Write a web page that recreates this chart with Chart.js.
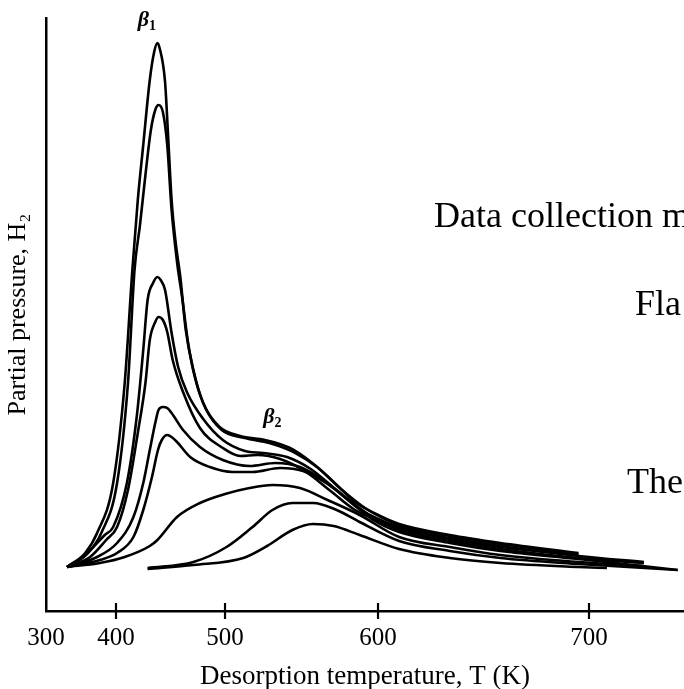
<!DOCTYPE html>
<html lang="en">
  <head>
    <script src="https://cdn.jsdelivr.net/npm/chart.js"></script>
    <meta charset="UTF-8" />
    <title>H2 desorption spectra</title>
    <style>
      html, body {
        margin: 0;
        padding: 0;
        background: #fff;
        overflow: hidden;
      }
      body {
        position: relative;
        width: 684px;
        height: 689px;
      }
      canvas {
        position: absolute;
        left: 0;
        top: 0;
      }
      .note {
        position: absolute;
        font-family: "Liberation Serif", serif;
        font-size: 36px;
        line-height: 36px;
        white-space: nowrap;
        color: #000;
      }
    </style>
  </head>
  <body>
    <canvas id="tds" width="684" height="689"></canvas>
    <div class="note" style="left: 434px; top: 197px">Data collection m</div>
    <div class="note" style="left: 635px; top: 285px">Fla</div>
    <div class="note" style="left: 627px; top: 463px">The</div>

    <script>
      // temperature axis: printed ticks and where they sit along the axis (0..1)
      const tempTicks = [300, 400, 500, 600, 700];
      const warpT = [300, 400, 500, 600, 700, 745];
      const warpF = [0, 0.1097, 0.2806, 0.5204, 0.8511, 1];

      // desorption curves, [T (K), partial pressure (arb.)]
      const curve1 = [[330,44],[356,58],[373,78],[396,128],[408,228],[415,341],[420,411],[425,466],[431,531],[435,559],[438,568],[440,563],[445,529],[448,471],[451,411],[455,366],[459,334],[464,281],[471,241],[480,208],[495,184],[510,175],[526,171],[542.5,163],[557,148],[571,129],[585,109],[601,95],[610,87],[634,76],[658,68],[695,58]];
      const curve2 = [[330,44],[360,58],[379,78],[401,128],[411,228],[417,341],[422,386],[427,436],[432,481],[436,501],[439,506],[443,499],[447,466],[451,401],[456,349],[461,311],[466,269],[472.5,233],[482,203],[497,181],[513,173],[529,168],[546,158],[561,143],[575,123],[591.5,103],[610,86],[634,75],[658,67],[695,57]];
      const curve3 = [[330,44],[353,54],[384,76],[396,84],[410,128],[419,194],[425,261],[429,311],[434,328],[438,334],[441,331],[445,321],[451,278],[457,244],[465,219],[480,192],[498,171],[513,160],[525,158],[540.5,154],[556,142],[572,122],[588,102],[610,84],[634,73],[658,65],[695,55],[726,49]];
      const curve4 = [[330,44],[363,54],[386,71],[401,84],[411,121],[420,178],[427,228],[431,271],[436,289],[439,294],[443,291],[447,279],[452,251],[461.5,219],[477,183],[498,163],[510,155],[521,156],[536,152],[552,140],[569,120],[585,101],[610,83],[634,72],[658,64],[695,56]];
      const curve5 = [[330,44],[370,53],[401,68],[416,94],[425,128],[431,161],[436,188],[439,201],[443,204],[447,203],[451,198],[461.5,181],[477,164],[498,151],[516,145],[533,148],[549,144],[565,130],[582,110],[598,92],[610,81],[634,70],[658,62],[695,53],[726,48]];
      const curve6 = [[330,44],[377,51],[401,58],[416,74],[425,101],[433,134],[438.5,161],[442,171],[447,176],[451,174],[456,169],[468,154],[486,144],[505,139],[518,139],[536,143],[551,140],[567,127],[582,109],[598,90],[610,79],[634,68],[658,60],[695,52],[742,41]];
      const curve7 = [[330,44],[377,48],[408,54],[431,65],[438,71],[456,94],[477,108],[500,117],[516,123],[531,126],[549,123],[567,111],[588,96],[610,74],[634,64],[658,56],[695,49],[726,45]];
      const curve8 = [[429,43],[471,49],[501,64],[518,84],[531,101],[544,108],[557.5,108],[573,101],[588,89],[610,70],[634,60],[658,53],[695,47],[742,41]];
      const curve9 = [[429,42],[471,46],[512,53],[527.5,65],[544,81],[557.5,87],[571,85],[588,76],[610,62],[634,53],[658,48],[695,44],[708.5,43]];
      const curves = [curve1, curve2, curve3, curve4, curve5, curve6, curve7, curve8, curve9];

      // peak labels: [T, pressure, subscript]
      const peakLabels = [[420, 585, "1"], [525, 188, "2"]];

      function warp(t) {
        let i = 0;
        while (i < warpT.length - 2 && t > warpT[i + 1]) i++;
        return warpF[i] + ((t - warpT[i]) / (warpT[i + 1] - warpT[i])) * (warpF[i + 1] - warpF[i]);
      }
      function unwarp(f) {
        let i = 0;
        while (i < warpF.length - 2 && f > warpF[i + 1]) i++;
        return warpT[i] + ((f - warpF[i]) / (warpF[i + 1] - warpF[i])) * (warpT[i + 1] - warpT[i]);
      }

      // linear scale with the uneven spacing of the printed temperature axis
      class WarpScale extends Chart.LinearScale {
        static id = "warp";
        static defaults = Chart.LinearScale.defaults;
        getPixelForValue(value) {
          return this.getPixelForDecimal(warp(value));
        }
        getValueForPixel(pixel) {
          return unwarp(this.getDecimalForPixel(pixel));
        }
      }
      Chart.register(WarpScale);

      // tick marks that cross the axis line
      const crossTicks = {
        id: "crossTicks",
        afterDatasetsDraw(chart) {
          const { ctx, chartArea, scales } = chart;
          ctx.save();
          ctx.strokeStyle = "#000";
          ctx.lineWidth = 2.2;
          scales.x.ticks.forEach((t) => {
            if (t.value === tempTicks[0]) return;
            const px = scales.x.getPixelForValue(t.value);
            ctx.beginPath();
            ctx.moveTo(px, chartArea.bottom - 8);
            ctx.lineTo(px, chartArea.bottom + 8);
            ctx.stroke();
          });
          ctx.restore();
        },
      };

      const betaLabels = {
        id: "betaLabels",
        afterDatasetsDraw(chart) {
          const { ctx, scales } = chart;
          ctx.save();
          ctx.fillStyle = "#000";
          ctx.textAlign = "left";
          ctx.textBaseline = "alphabetic";
          peakLabels.forEach(([t, h, sub]) => {
            const px = scales.x.getPixelForValue(t);
            const py = scales.y.getPixelForValue(h);
            ctx.font = 'italic bold 22px "Liberation Serif"';
            ctx.fillText("β", px, py);
            const w = ctx.measureText("β").width;
            ctx.font = 'bold 14px "Liberation Serif"';
            ctx.fillText(sub, px + w, py + 4);
          });
          ctx.restore();
        },
      };

      Chart.defaults.color = "#000";

      new Chart(document.getElementById("tds"), {
        type: "line",
        data: {
          datasets: curves.map((c) => ({
            data: c.map(([x, y]) => ({ x, y })),
            borderColor: "#000",
            borderWidth: 2.6,
            pointRadius: 0,
            fill: false,
            cubicInterpolationMode: "monotone",
          })),
        },
        options: {
          responsive: false,
          animation: false,
          layout: { padding: { top: 18, right: 0, bottom: 0, left: 0 } },
          plugins: {
            legend: { display: false },
            tooltip: { enabled: false },
          },
          scales: {
            x: {
              type: "warp",
              min: 300,
              max: 745,
              afterBuildTicks: (s) => {
                s.ticks = tempTicks.map((v) => ({ value: v }));
              },
              afterFit: (s) => {
                s.height = 78;
              },
              grid: { display: false, drawTicks: false },
              border: { display: true, color: "#000", width: 2.5 },
              ticks: {
                autoSkip: false,
                maxRotation: 0,
                padding: 12,
                font: { family: "Liberation Serif", size: 25 },
                callback: (v) => String(v),
              },
              title: {
                display: true,
                text: "Desorption temperature, T (K)",
                font: { family: "Liberation Serif", size: 27 },
                padding: { top: 0, bottom: -4 },
              },
            },
            y: {
              min: 0,
              max: 593,
              afterFit: (s) => {
                s.width = 46;
              },
              grid: { display: false },
              border: { display: true, color: "#000", width: 2.5 },
              ticks: { display: false },
              title: {
                display: true,
                text: "Partial pressure, H₂",
                font: { family: "Liberation Serif", size: 26 },
                padding: { top: 3, bottom: 0 },
              },
            },
          },
        },
        plugins: [crossTicks, betaLabels],
      });
    </script>
  </body>
</html>
